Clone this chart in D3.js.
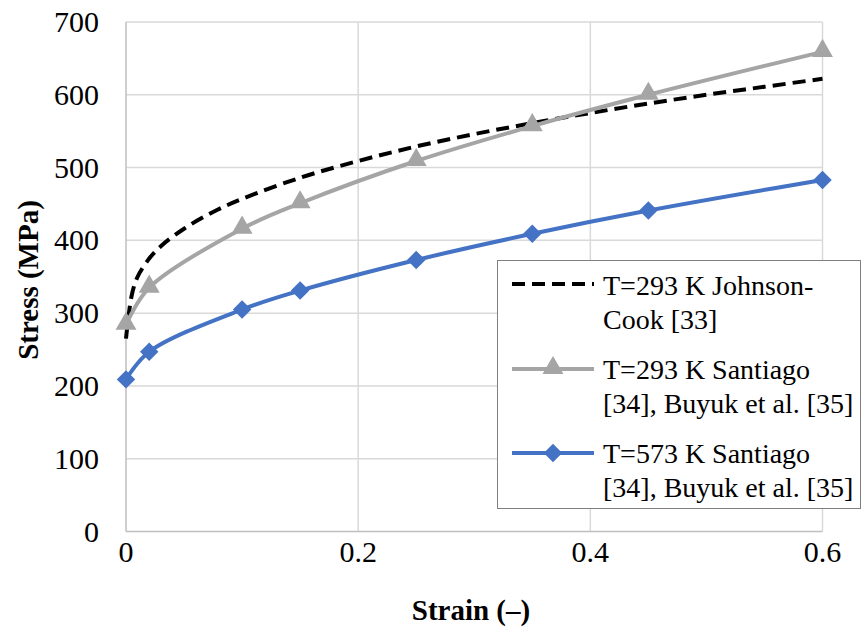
<!DOCTYPE html>
<html><head><meta charset="utf-8">
<script src="https://cdn.jsdelivr.net/npm/d3@7"></script>
<style>
body{margin:0;background:#fff}
svg{display:block}
</style>
</head><body>
<svg id="c" width="862" height="631" font-family="Liberation Serif"></svg>
<script>
const strainPts = [0, 0.02, 0.1, 0.15, 0.25, 0.35, 0.45, 0.6];
const santiago293 = [284, 335, 416, 451, 509, 557, 600, 659];
const santiago573 = [209, 247, 305, 331, 373, 409, 441, 483];
const jcStrain = [0, 0.005, 0.01, 0.02, 0.03, 0.05, 0.075, 0.1, 0.15, 0.2, 0.25, 0.3, 0.35, 0.4, 0.45, 0.5, 0.55, 0.6];
const jcStress = [265, 325, 350, 375, 392, 416, 439, 457, 486, 509, 529, 546, 561, 575, 588, 600, 611, 622];
const xTicks = [0, 0.2, 0.4, 0.6];
const yTicks = [0, 100, 200, 300, 400, 500, 600, 700];
const legendLabels = [["T=293 K Johnson-", "Cook [33]"], ["T=293 K Santiago", "[34], Buyuk et al. [35]"], ["T=573 K Santiago", "[34], Buyuk et al. [35]"]];

const svg = d3.select("#c");
const x = d3.scaleLinear().domain([0, 0.6]).range([126, 822.5]);
const y = d3.scaleLinear().domain([0, 700]).range([531.5, 22]);

function txt(sel, size, bold) {
  return sel.attr("font-family", "Liberation Serif").style("font-family", '"Liberation Serif"')
    .style("font-size", size + "px").style("font-weight", bold ? "bold" : "normal");
}

// gridlines
svg.append("g").selectAll("line").data(yTicks.filter(d => d > 0)).join("line")
  .attr("x1", x(0)).attr("x2", x(0.6)).attr("y1", d => y(d)).attr("y2", d => y(d))
  .attr("stroke", "#d9d9d9").attr("stroke-width", 1.5);
svg.append("g").selectAll("line").data(xTicks.filter(d => d > 0)).join("line")
  .attr("y1", y(0)).attr("y2", y(700)).attr("x1", d => x(d)).attr("x2", d => x(d))
  .attr("stroke", "#d9d9d9").attr("stroke-width", 1.5);
// axes lines
svg.append("line").attr("x1", x(0)).attr("x2", x(0)).attr("y1", y(0)).attr("y2", y(700)).attr("stroke", "#bfbfbf").attr("stroke-width", 1.5);
svg.append("line").attr("x1", x(0)).attr("x2", x(0.6)).attr("y1", y(0)).attr("y2", y(0)).attr("stroke", "#bfbfbf").attr("stroke-width", 1.5);

// series
const smooth = d3.line().x(d => x(d[0])).y(d => y(d[1])).curve(d3.curveCatmullRom.alpha(0.5));
const jcData = jcStrain.map((s, i) => [s, jcStress[i]]);
const g293 = strainPts.map((s, i) => [s, santiago293[i]]);
const g573 = strainPts.map((s, i) => [s, santiago573[i]]);

svg.append("path").datum(jcData).attr("d", smooth).attr("fill", "none")
  .attr("stroke", "#000").attr("stroke-width", 4).attr("stroke-dasharray", "13,7");
svg.append("path").datum(g293).attr("d", smooth).attr("fill", "none")
  .attr("stroke", "#a5a5a5").attr("stroke-width", 4);
svg.append("path").datum(g573).attr("d", smooth).attr("fill", "none")
  .attr("stroke", "#4472c4").attr("stroke-width", 4);

const tri = d3.symbol().type(d3.symbolTriangle).size(190);
const sq = d3.symbol().type(d3.symbolSquare).size(170);
svg.append("g").selectAll("path").data(g293).join("path")
  .attr("d", tri).attr("transform", d => `translate(${x(d[0])},${y(d[1]) - 1})`).attr("fill", "#a5a5a5");
svg.append("g").selectAll("path").data(g573).join("path")
  .attr("d", sq).attr("transform", d => `translate(${x(d[0])},${y(d[1])}) rotate(45)`).attr("fill", "#4472c4");

// tick labels
txt(svg.append("g").selectAll("text").data(yTicks).join("text")
  .attr("x", 99).attr("y", d => y(d) + 10).attr("text-anchor", "end"), 30).text(d => d);
txt(svg.append("g").selectAll("text").data(xTicks).join("text")
  .attr("x", d => x(d)).attr("y", 562).attr("text-anchor", "middle"), 30).text(d => d);

// axis titles
txt(svg.append("text").attr("transform", "translate(38,280) rotate(-90)").attr("text-anchor", "middle"), 29, true).text("Stress (MPa)");
txt(svg.append("text").attr("x", 471).attr("y", 620).attr("text-anchor", "middle"), 29, true).text("Strain (–)");

// legend
const lg = svg.append("g");
lg.append("rect").attr("x", 497.5).attr("y", 260.5).attr("width", 363).attr("height", 248)
  .attr("fill", "#fff").attr("stroke", "#7f7f7f").attr("stroke-width", 1);
const rows = [
  {yl: 284, color: "#000", dash: "13,7", marker: null, base: 295},
  {yl: 369, color: "#a5a5a5", dash: null, marker: "tri", base: 379},
  {yl: 453, color: "#4472c4", dash: null, marker: "dia", base: 463}
];
rows.forEach((r, i) => {
  lg.append("line").attr("x1", 512).attr("x2", 594).attr("y1", r.yl).attr("y2", r.yl)
    .attr("stroke", r.color).attr("stroke-width", 4).attr("stroke-dasharray", r.dash);
  if (r.marker === "tri") lg.append("path").attr("d", tri).attr("transform", `translate(553,${r.yl - 1})`).attr("fill", r.color);
  if (r.marker === "dia") lg.append("path").attr("d", sq).attr("transform", `translate(553,${r.yl}) rotate(45)`).attr("fill", r.color);
  legendLabels[i].forEach((s, j) => txt(lg.append("text").attr("x", 603).attr("y", r.base + j * 34), 28).text(s));
});
</script>
</body></html>
